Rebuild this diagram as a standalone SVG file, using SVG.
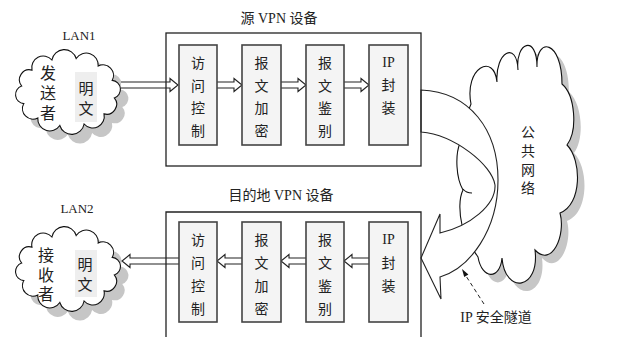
<svg xmlns="http://www.w3.org/2000/svg" width="640" height="337" viewBox="0 0 640 337">
  <defs>
    <style>
      .txt { font-family: "Liberation Serif", "Noto Sans CJK SC", serif; fill: #222; text-anchor: middle; dominant-baseline: central; }
      .outer { fill: none; stroke: #222; stroke-width: 1.3; }
      .stage { fill: #f4f4f4; stroke: #444; stroke-width: 1.6; }
      .cloud { fill: #fff; stroke: #111; stroke-width: 1.1; }
      .shadow { fill: #c6c6c6; stroke: none; }
      .hollow { fill: #fff; stroke: #222; stroke-width: 1.1; stroke-linejoin: miter; }
      .tail { fill: none; stroke: #111; stroke-width: 1.1; }
    </style>
    <path id="lanCloud" d="M21.7,86.1 A10,10 0 0 1 32,70.1 A11.5,11.5 0 0 1 51.9,60 A12.5,12.5 0 0 1 76.2,58.5 A12,12 0 0 1 98.2,66 A10.5,10.5 0 0 1 112.2,80.4 A9,9 0 0 1 114.3,97.9 A10,10 0 0 1 104,113.9 A11.5,11.5 0 0 1 84.1,124 A12.5,12.5 0 0 1 59.8,125.5 A12,12 0 0 1 37.8,118 A10.5,10.5 0 0 1 23.8,103.6 A9,9 0 0 1 21.7,86.1 Z"/>
    <path id="pubCloud" d="M471,104 C464,68 494,52 497,82 C495,52 517,40 518,70 C515,42 537,34 537,67 C536,36 562,40 562,84 C575,95 578,130 567,145 C582,160 582,205 560,213 C566,235 552,268 535,250 C540,290 505,295 502,258 C500,280 482,280 478,257 C470,245 462,235 462,225 C459,212 459,198 463,190 C456,178 455,155 460,143 C463,130 466,115 471,104 Z"/>
  </defs>

  <!-- public network cloud -->
  <g id="public-net">
    <use href="#pubCloud" class="shadow" transform="translate(7,8)"/>
    <use href="#pubCloud" class="cloud"/>
    <path class="tail" d="M463,189 Q466,193 472,193"/>
    <text class="txt" font-size="14" x="528" y="132">公</text>
    <text class="txt" font-size="14" x="528" y="151">共</text>
    <text class="txt" font-size="14" x="528" y="170">网</text>
    <text class="txt" font-size="14" x="528" y="188">络</text>
  </g>

  <!-- sender LAN -->
  <g id="lan1">
    <use href="#lanCloud" class="shadow" transform="translate(8,9)"/>
    <use href="#lanCloud" class="cloud"/>
    <text class="txt" font-size="13" x="79" y="35">LAN1</text>
    <text class="txt" font-size="16" x="48" y="73">发</text>
    <text class="txt" font-size="16" x="48" y="93">送</text>
    <text class="txt" font-size="16" x="48" y="113">者</text>
    <rect x="75" y="72" width="22" height="50" fill="#eeeeee"/>
    <text class="txt" font-size="15" x="86" y="89">明</text>
    <text class="txt" font-size="15" x="86" y="109">文</text>
  </g>

  <!-- receiver LAN -->
  <g id="lan2">
    <use href="#lanCloud" class="shadow" transform="translate(8,186)"/>
    <use href="#lanCloud" class="cloud" transform="translate(0,177)"/>
    <text class="txt" font-size="13" x="77" y="208">LAN2</text>
    <text class="txt" font-size="16" x="46" y="255">接</text>
    <text class="txt" font-size="16" x="46" y="275">收</text>
    <text class="txt" font-size="16" x="46" y="294">者</text>
    <rect x="75" y="250" width="22" height="47" fill="#eeeeee"/>
    <text class="txt" font-size="15" x="85" y="265">明</text>
    <text class="txt" font-size="15" x="85" y="285">文</text>
  </g>

  <!-- connectors -->
  <g id="connectors">
    <!-- top row, left to right -->
    <path class="hollow" d="M121,82 H170 V78.5 L178,85 L170,91.5 V88 H121"/>
    <path class="hollow" d="M217,82 H234 V78.5 L242,85 L234,91.5 V88 H217"/>
    <path class="hollow" d="M281,82 H298 V78.5 L306,85 L298,91.5 V88 H281"/>
    <path class="hollow" d="M344,82 H361 V78.5 L369,85 L361,91.5 V88 H344"/>
    <!-- bottom row, right to left -->
    <path class="hollow" d="M369,258 H352 V254.5 L344,261 L352,267.5 V264 H369"/>
    <path class="hollow" d="M306,258 H289 V254.5 L281,261 L289,267.5 V264 H306"/>
    <path class="hollow" d="M242,258 H225 V254.5 L217,261 L225,267.5 V264 H242"/>
    <path class="hollow" d="M179,258 H130 V254.5 L122,261 L130,267.5 V264 H179"/>
    <!-- tunnel through the public network -->
    <path class="hollow" d="M421,90 C470,92 498,130 498,180 C498,230 470,268 440,277 L441,299 L421,258 L440,214 L440,233 C470,226 496,205 495,185 C492,165 455,135 421,132 Z"/>
    <!-- tunnel callout -->
    <line x1="484" y1="304" x2="466" y2="276" stroke="#222" stroke-width="1" stroke-dasharray="4 3"/>
    <polygon points="462,269 468.4,274.5 464.2,277.1" fill="#111"/>
  </g>
  <text class="txt" font-size="14" x="496" y="317">IP 安全隧道</text>

  <!-- source VPN device -->
  <g id="src-vpn">
    <text class="txt" font-size="14" x="279" y="18">源 VPN 设备</text>
    <rect class="outer" x="166" y="33" width="255" height="133"/>
    <g id="src-access">
      <rect class="stage" x="179" y="45" width="38" height="100"/>
      <text class="txt" font-size="14" x="198" y="63">访</text>
      <text class="txt" font-size="14" x="198" y="86">问</text>
      <text class="txt" font-size="14" x="198" y="108">控</text>
      <text class="txt" font-size="14" x="198" y="131">制</text>
    </g>
    <g id="src-encrypt">
      <rect class="stage" x="242" y="45" width="39" height="100"/>
      <text class="txt" font-size="14" x="261.5" y="63">报</text>
      <text class="txt" font-size="14" x="261.5" y="86">文</text>
      <text class="txt" font-size="14" x="261.5" y="108">加</text>
      <text class="txt" font-size="14" x="261.5" y="131">密</text>
    </g>
    <g id="src-auth">
      <rect class="stage" x="306" y="45" width="38" height="100"/>
      <text class="txt" font-size="14" x="325" y="63">报</text>
      <text class="txt" font-size="14" x="325" y="86">文</text>
      <text class="txt" font-size="14" x="325" y="108">鉴</text>
      <text class="txt" font-size="14" x="325" y="131">别</text>
    </g>
    <g id="src-ip">
      <rect class="stage" x="369" y="45" width="39" height="100"/>
      <text class="txt" font-size="14" x="388.5" y="62">IP</text>
      <text class="txt" font-size="14" x="388.5" y="85">封</text>
      <text class="txt" font-size="14" x="388.5" y="108">装</text>
    </g>
  </g>

  <!-- destination VPN device -->
  <g id="dst-vpn">
    <text class="txt" font-size="14" x="281" y="195">目的地 VPN 设备</text>
    <path class="outer" d="M166,340 V212 H421 V340"/>
    <g id="dst-access">
      <rect class="stage" x="179" y="222" width="38" height="100"/>
      <text class="txt" font-size="14" x="198" y="240">访</text>
      <text class="txt" font-size="14" x="198" y="263">问</text>
      <text class="txt" font-size="14" x="198" y="286">控</text>
      <text class="txt" font-size="14" x="198" y="309">制</text>
    </g>
    <g id="dst-decrypt">
      <rect class="stage" x="242" y="222" width="39" height="100"/>
      <text class="txt" font-size="14" x="261.5" y="240">报</text>
      <text class="txt" font-size="14" x="261.5" y="263">文</text>
      <text class="txt" font-size="14" x="261.5" y="286">加</text>
      <text class="txt" font-size="14" x="261.5" y="309">密</text>
    </g>
    <g id="dst-auth">
      <rect class="stage" x="306" y="222" width="38" height="100"/>
      <text class="txt" font-size="14" x="325" y="240">报</text>
      <text class="txt" font-size="14" x="325" y="263">文</text>
      <text class="txt" font-size="14" x="325" y="286">鉴</text>
      <text class="txt" font-size="14" x="325" y="309">别</text>
    </g>
    <g id="dst-ip">
      <rect class="stage" x="369" y="222" width="39" height="100"/>
      <text class="txt" font-size="14" x="388.5" y="239">IP</text>
      <text class="txt" font-size="14" x="388.5" y="263">封</text>
      <text class="txt" font-size="14" x="388.5" y="286">装</text>
    </g>
  </g>
</svg>
